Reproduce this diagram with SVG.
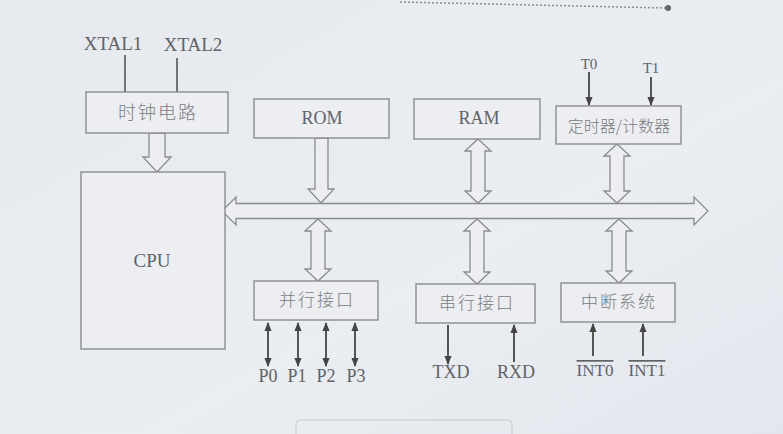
<svg xmlns="http://www.w3.org/2000/svg" width="783" height="434" viewBox="0 0 783 434">
<defs>
<linearGradient id="bg" x1="0" y1="0" x2="1" y2="1">
<stop offset="0" stop-color="#e6e9ee"/>
<stop offset="0.6" stop-color="#eaedf2"/>
<stop offset="1" stop-color="#e3e6ec"/>
</linearGradient>
<marker id="ah" viewBox="0 0 10 10" refX="9" refY="5" markerWidth="5" markerHeight="5" orient="auto-start-reverse">
<path d="M0,1 L10,5 L0,9 z" fill="#444"/>
</marker>
<style>
.box{fill:#eceef2;stroke:#8a8c90;stroke-width:1.4}
.lat{font-family:"Liberation Serif","Times New Roman",serif;fill:#606266;text-anchor:middle}
.cjk{font-family:"Noto Sans CJK SC","Noto Sans CJK JP",sans-serif;font-weight:300;fill:#7a7c80;text-anchor:middle;letter-spacing:2px}
.hol{fill:#eceef2;stroke:#8a8c90;stroke-width:1.3;stroke-linejoin:miter}
.thin{stroke:#555;stroke-width:1.6;fill:none}
.sig{stroke:#444;stroke-width:1.8;fill:none}
</style>
</defs>
<rect width="783" height="434" fill="url(#bg)"/>
<line x1="400" y1="2" x2="666" y2="8" stroke="#8a8c90" stroke-width="1.5" stroke-dasharray="2 2"/>
<circle cx="668" cy="8" r="3" fill="#666"/>
<rect x="296" y="420" width="216" height="24" rx="4" fill="none" stroke="#c8cacf" stroke-width="1"/>

<g id="connectors">
<line class="thin" x1="125" y1="55" x2="125" y2="92"/>
<line class="thin" x1="177" y1="58" x2="177" y2="92"/>
<polygon class="hol" points="149,133 149,157 143,157 157,172 171,157 165,157 165,133"/>
<polygon class="hol" points="222,211 236,197 236,203.5 694,203.5 694,197 708,211 694,225 694,218.5 236,218.5 236,225"/>
<polygon class="hol" points="315,138 315,189 308,189 321,203 334,189 328,189 328,138"/>
<polygon class="hol" points="478,139 491,151 485,151 485,191 491,191 478,203 465,191 471,191 471,151 465,151"/>
<polygon class="hol" points="617,144 630,156 624,156 624,191 630,191 617,203 604,191 610,191 610,156 604,156"/>
<polygon class="hol" points="318,219 331,231 325,231 325,269 331,269 318,281 305,269 311,269 311,231 305,231"/>
<polygon class="hol" points="477,219 490,231 484,231 484,272 490,272 477,284 464,272 470,272 470,231 464,231"/>
<polygon class="hol" points="619,219 632,231 626,231 626,271 632,271 619,283 606,271 612,271 612,231 606,231"/>
<line class="sig" x1="589" y1="72" x2="589" y2="105" marker-end="url(#ah)"/>
<line class="sig" x1="651" y1="77" x2="651" y2="105" marker-end="url(#ah)"/>
<line class="sig" x1="268" y1="323" x2="268" y2="366" marker-start="url(#ah)" marker-end="url(#ah)"/>
<line class="sig" x1="298" y1="323" x2="298" y2="366" marker-start="url(#ah)" marker-end="url(#ah)"/>
<line class="sig" x1="326" y1="323" x2="326" y2="366" marker-start="url(#ah)" marker-end="url(#ah)"/>
<line class="sig" x1="355" y1="323" x2="355" y2="366" marker-start="url(#ah)" marker-end="url(#ah)"/>
<line class="sig" x1="448" y1="325" x2="448" y2="364" marker-end="url(#ah)"/>
<line class="sig" x1="514" y1="362" x2="514" y2="325" marker-end="url(#ah)"/>
<line class="sig" x1="593" y1="356" x2="593" y2="324" marker-end="url(#ah)"/>
<line class="sig" x1="643" y1="356" x2="643" y2="324" marker-end="url(#ah)"/>
</g>

<g id="xtal-labels">
<text class="lat" x="113" y="50" font-size="19">XTAL1</text>
<text class="lat" x="193" y="51" font-size="19">XTAL2</text>
</g>
<g id="clock">
<rect class="box" x="86" y="92" width="142" height="41"/>
<text class="cjk" x="158" y="119" font-size="18">时钟电路</text>
</g>
<g id="cpu">
<rect class="box" x="81" y="172" width="144" height="177"/>
<text class="lat" x="152" y="267" font-size="19">CPU</text>
</g>
<g id="rom">
<rect class="box" x="254" y="99" width="135" height="39"/>
<text class="lat" x="322" y="124" font-size="18">ROM</text>
</g>
<g id="ram">
<rect class="box" x="414" y="99" width="126" height="40"/>
<text class="lat" x="479" y="124" font-size="18">RAM</text>
</g>
<g id="timer">
<rect class="box" x="556" y="106" width="125" height="38"/>
<text class="cjk" x="619" y="132" font-size="16" style="letter-spacing:0px">定时器/计数器</text>
<text class="lat" x="589" y="69" font-size="15">T0</text>
<text class="lat" x="651" y="73" font-size="15">T1</text>
</g>
<g id="parallel">
<rect class="box" x="254" y="281" width="124" height="39"/>
<text class="cjk" x="317" y="306" font-size="17">并行接口</text>
<text class="lat" x="268" y="382" font-size="18">P0</text>
<text class="lat" x="297" y="382" font-size="18">P1</text>
<text class="lat" x="326" y="382" font-size="18">P2</text>
<text class="lat" x="356" y="382" font-size="18">P3</text>
</g>
<g id="serial">
<rect class="box" x="416" y="284" width="119" height="39"/>
<text class="cjk" x="477" y="309" font-size="17">串行接口</text>
<text class="lat" x="451" y="378" font-size="18">TXD</text>
<text class="lat" x="516" y="378" font-size="18">RXD</text>
</g>
<g id="interrupt">
<rect class="box" x="561" y="283" width="114" height="39"/>
<text class="cjk" x="619" y="308" font-size="17">中断系统</text>
<text class="lat" x="595" y="376" font-size="17" text-decoration="overline">INT0</text>
<text class="lat" x="647" y="376" font-size="17" text-decoration="overline">INT1</text>
</g>
</svg>
